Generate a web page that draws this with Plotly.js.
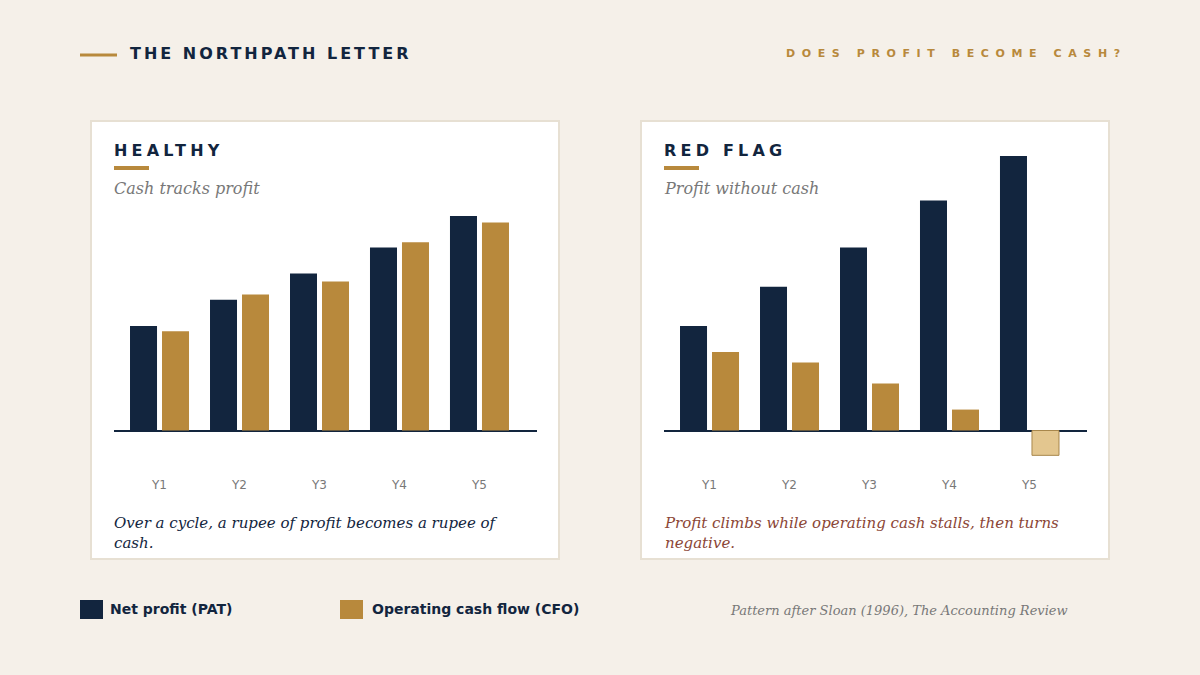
<!DOCTYPE html>
<html><head><meta charset="utf-8">
<script src="https://cdn.plot.ly/plotly-3.0.1.min.js"></script>
<style>html,body{margin:0;padding:0;background:#f5f0e9;} #chart{width:1200px;height:675px;}</style>
</head><body><div id="chart"></div>
<script>
// ---- data ----
const years = ['Y1', 'Y2', 'Y3', 'Y4', 'Y5'];
const healthyPAT = [40, 50, 60, 70, 82];
const healthyCFO = [38, 52, 57, 72, 79.5];
const redflagPAT = [40, 55, 70, 88, 105];
const redflagCFO = [30, 26, 18, 8, -9.5];
const seriesNames = ['Net profit (PAT)', 'Operating cash flow (CFO)'];

// ---- style ----
const NAVY = '#12253e', GOLD = '#b8893c', GOLD_LIGHT = '#e3c68f', GOLD_EDGE = '#a8874c';
const BG = '#f5f0e9', CARD_BORDER = '#e7e0d3', GRAY = '#787878', RED = '#8b4636';
const W = 1200, H = 675;
const px = x => x / W, py = y => 1 - y / H;
const SANS = 'DejaVu Sans', SERIF = 'DejaVu Serif';

// axis geometry
const base = 430.5, scale = 2.615, plotTop = 143, plotBot = 470;
const yRange = [-(plotBot - base) / scale, (base - plotTop) / scale];
const xRange = [-0.569, 4.719];

function bar(x, y, name, color, xa, ya, lineColor, lineWidth) {
  return {type: 'bar', x: x, y: y, name: name, xaxis: xa, yaxis: ya,
    marker: {color: color, line: {color: lineColor || color, width: lineWidth || 0}},
    hoverinfo: 'skip', showlegend: false};
}
const rfCfoColors = redflagCFO.map(v => v < 0 ? GOLD_LIGHT : GOLD);
const rfCfoLine = redflagCFO.map(v => v < 0 ? GOLD_EDGE : GOLD);
const rfCfoLineW = redflagCFO.map(v => v < 0 ? 1 : 0);

const data = [
  bar(years, healthyPAT, seriesNames[0], NAVY, 'x', 'y'),
  bar(years, healthyCFO, seriesNames[1], GOLD, 'x', 'y'),
  bar(years, redflagPAT, seriesNames[0], NAVY, 'x2', 'y2'),
  bar(years, redflagCFO, seriesNames[1], rfCfoColors, 'x2', 'y2', rfCfoLine, rfCfoLineW)
];

function xaxis(d0, d1, anchor) {
  return {domain: [px(d0), px(d1)], range: xRange, anchor: anchor, showgrid: false, zeroline: false,
    showline: false, ticks: '', tickfont: {family: SANS, size: 12, color: GRAY}, fixedrange: true,
    ticklabelstandoff: 6};
}
function yaxis(anchor) {
  return {domain: [py(plotBot), py(plotTop)], range: yRange, anchor: anchor, showgrid: false,
    zeroline: true, zerolinecolor: NAVY, zerolinewidth: 2, showticklabels: false, showline: false,
    ticks: '', fixedrange: true};
}

function rect(x0, y0, x1, y1, fill, line, lw) {
  return {type: 'rect', xref: 'paper', yref: 'paper', x0: px(x0), x1: px(x1), y0: py(y1), y1: py(y0),
    fillcolor: fill, line: {color: line || fill, width: lw || 0}, layer: 'below'};
}
const shapes = [
  rect(91, 121, 559, 559, '#ffffff', CARD_BORDER, 2),
  rect(641, 121, 1109, 559, '#ffffff', CARD_BORDER, 2),
  rect(80, 53.5, 117, 56.5, GOLD),
  rect(114, 166, 149, 170, GOLD),
  rect(664, 166, 699, 170, GOLD),
  rect(80, 600, 103, 619, NAVY),
  rect(340, 600, 363, 619, GOLD)
];

function ann(text, x, y, font, extra) {
  return Object.assign({text: text, xref: 'paper', yref: 'paper', x: px(x), y: py(y),
    xanchor: 'left', yanchor: 'middle', align: 'left', showarrow: false, font: font}, extra || {});
}
const annotations = [
  ann('THE NORTHPATH LETTER', 128, 54, {family: SANS, size: 16, color: NAVY, weight: 700}),
  ann('DOES PROFIT BECOME CASH?', 784, 53, {family: SANS, size: 11, color: GOLD, weight: 700}),
  ann('HEALTHY', 112, 150, {family: SANS, size: 16, color: NAVY, weight: 700}),
  ann('RED FLAG', 662, 150, {family: SANS, size: 16, color: NAVY, weight: 700}),
  ann('Cash tracks profit', 112, 188, {family: SERIF, size: 16, color: GRAY, style: 'italic'}),
  ann('Profit without cash', 662, 188, {family: SERIF, size: 16, color: GRAY, style: 'italic'}),
  ann('Over a cycle, a rupee of profit becomes a rupee of<br>cash.', 112, 533,
      {family: SERIF, size: 15, color: NAVY, style: 'italic'}),
  ann('Profit climbs while operating cash stalls, then turns<br>negative.', 662, 533,
      {family: SERIF, size: 15, color: RED, style: 'italic'}),
  ann(seriesNames[0], 108, 609, {family: SANS, size: 14, color: NAVY, weight: 700}),
  ann(seriesNames[1], 370, 609, {family: SANS, size: 14, color: NAVY, weight: 700}),
  ann('Pattern after Sloan (1996), <i>The Accounting Review</i>', 728, 610,
      {family: SERIF, size: 13, color: GRAY, style: 'italic'})
];

const layout = {
  width: W, height: H, margin: {l: 0, r: 0, t: 0, b: 0, pad: 0},
  paper_bgcolor: BG, plot_bgcolor: 'rgba(0,0,0,0)',
  barmode: 'group', bargap: 0.2, bargroupgap: 0.156,
  xaxis: xaxis(114, 537, 'y'), yaxis: yaxis('x'),
  xaxis2: xaxis(664, 1087, 'y2'), yaxis2: yaxis('x2'),
  shapes: shapes, annotations: annotations, showlegend: false
};

const spacing = {'THE NORTHPATH LETTER': '3px', 'DOES PROFIT BECOME CASH?': '6.6px',
                 'HEALTHY': '4.2px', 'RED FLAG': '4.2px'};
Plotly.newPlot('chart', data, layout, {displayModeBar: false, staticPlot: true}).then(() => {
  document.querySelectorAll('.annotation-text').forEach(t => {
    const s = spacing[t.textContent];
    if (s) t.style.letterSpacing = s;
  });
});
</script></body></html>
